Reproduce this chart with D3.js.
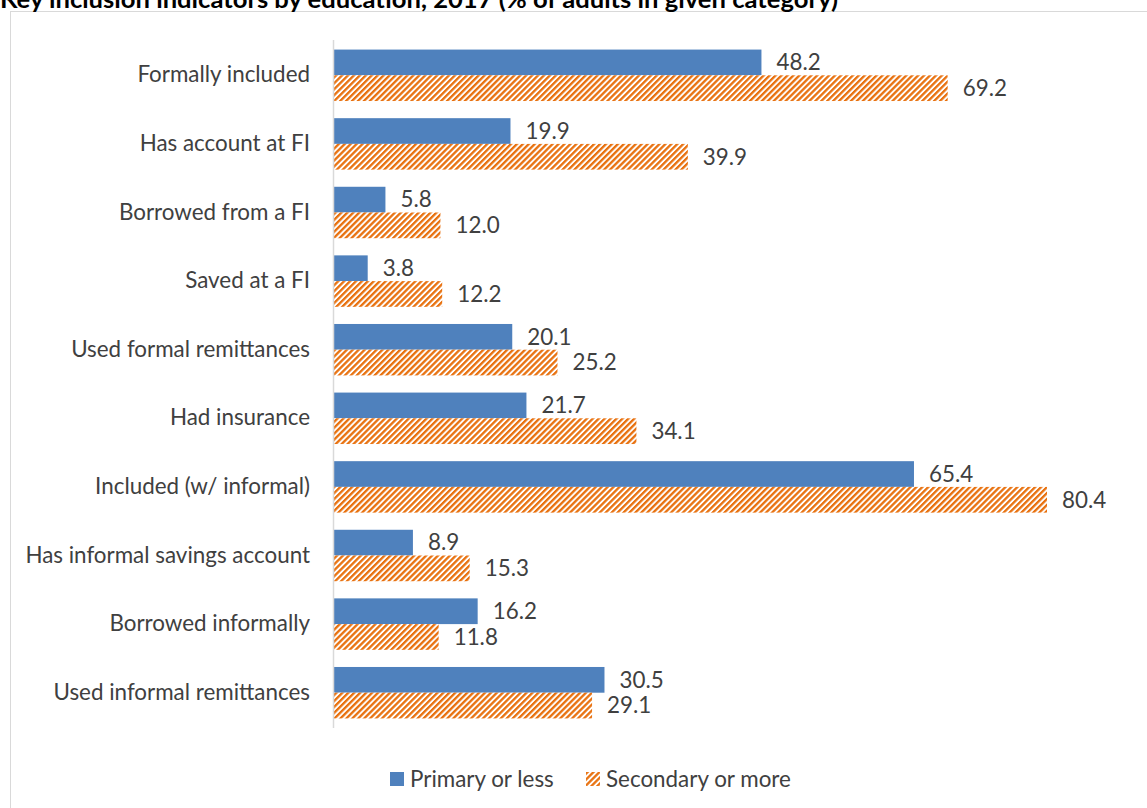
<!DOCTYPE html>
<html>
<head>
<meta charset="utf-8">
<script src="https://cdn.jsdelivr.net/npm/d3@7"></script>
<style>
  body { margin: 0; background: #fff; }
  svg { display: block; }
</style>
</head>
<body>
<div id="chart"></div>
<script>
var categories = ["Formally included", "Has account at FI", "Borrowed from a FI", "Saved at a FI",
  "Used formal remittances", "Had insurance", "Included (w/ informal)", "Has informal savings account",
  "Borrowed informally", "Used informal remittances"];
var primary = [48.2, 19.9, 5.8, 3.8, 20.1, 21.7, 65.4, 8.9, 16.2, 30.5];
var secondary = [69.2, 39.9, 12.0, 12.2, 25.2, 34.1, 80.4, 15.3, 11.8, 29.1];
var seriesNames = ["Primary or less", "Secondary or more"];

var width = 1147;
var height = 808;
var font = "Lato, 'Open Sans', sans-serif";
var textColor = "#404040";
var fs = "22.4px";

var svg = d3.select("#chart")
  .append("svg")
  .attr("width", width)
  .attr("height", height);

// hatch pattern for the second series
var defs = svg.append("defs");
var pat = defs.append("pattern")
  .attr("id", "hatch")
  .attr("patternUnits", "userSpaceOnUse")
  .attr("width", 4.2)
  .attr("height", 4.2)
  .attr("patternTransform", "rotate(45)");
pat.append("rect").attr("width", 4.2).attr("height", 4.2).attr("fill", "#fff");
pat.append("rect").attr("width", 2.3).attr("height", 4.2).attr("fill", "#E8710F");

// chart area border
svg.append("rect")
  .attr("x", 10.5)
  .attr("y", 11.5)
  .attr("width", width + 10)
  .attr("height", height + 10)
  .attr("fill", "none")
  .attr("stroke", "#d9d9d9");

// title (top partly clipped like the original)
svg.append("text")
  .attr("x", 0)
  .attr("y", 8)
  .attr("font-family", font)
  .attr("font-weight", "bold")
  .attr("font-size", "25.6px")
  .attr("fill", "#000")
  .text("Key inclusion indicators by education, 2017 (% of adults in given category)");

var xScale = d3.scaleLinear()
  .domain([0, 80.4])
  .range([334, 1047]);

var yScale = d3.scaleBand()
  .domain(categories)
  .range([41, 727])
  .paddingInner(0.25)
  .paddingOuter(0.125);

var bh = yScale.bandwidth() / 2;

// category labels
svg.append("g")
  .attr("transform", "translate(334,0)")
  .call(d3.axisLeft(yScale).tickSize(0).tickPadding(24))
  .call(function (g) { g.select(".domain").remove(); })
  .selectAll("text")
  .attr("font-family", font)
  .attr("font-size", fs)
  .attr("fill", textColor);

// bars
var rows = categories.map(function (c, i) {
  return { cat: c, p: primary[i], s: secondary[i] };
});

svg.selectAll("rect.prim")
  .data(rows)
  .enter()
  .append("rect")
  .attr("class", "prim")
  .attr("x", xScale(0))
  .attr("y", function (d) { return yScale(d.cat); })
  .attr("width", function (d) { return xScale(d.p) - xScale(0); })
  .attr("height", bh)
  .attr("fill", "#4F81BD");

svg.selectAll("rect.sec")
  .data(rows)
  .enter()
  .append("rect")
  .attr("class", "sec")
  .attr("x", xScale(0))
  .attr("y", function (d) { return yScale(d.cat) + bh; })
  .attr("width", function (d) { return xScale(d.s) - xScale(0); })
  .attr("height", bh)
  .attr("fill", "url(#hatch)");

// value labels
svg.selectAll("text.lp")
  .data(rows)
  .enter()
  .append("text")
  .attr("class", "lp")
  .attr("x", function (d) { return xScale(d.p) + 15; })
  .attr("y", function (d) { return yScale(d.cat) + bh / 2; })
  .attr("dy", "0.35em")
  .attr("font-family", font)
  .attr("font-size", fs)
  .attr("fill", textColor)
  .text(function (d) { return d.p.toFixed(1); });

svg.selectAll("text.ls")
  .data(rows)
  .enter()
  .append("text")
  .attr("class", "ls")
  .attr("x", function (d) { return xScale(d.s) + 15; })
  .attr("y", function (d) { return yScale(d.cat) + bh * 1.5; })
  .attr("dy", "0.35em")
  .attr("font-family", font)
  .attr("font-size", fs)
  .attr("fill", textColor)
  .text(function (d) { return d.s.toFixed(1); });

// vertical axis line
svg.append("line")
  .attr("x1", 333.5).attr("x2", 333.5)
  .attr("y1", 40).attr("y2", 728)
  .attr("stroke", "#d9d9d9")
  .attr("stroke-width", 1.5);

// legend
var legend = svg.append("g").attr("transform", "translate(390,772)");
var legendX = [0, 196];
var legendFill = ["#4F81BD", "url(#hatch)"];
legend.selectAll("rect")
  .data(seriesNames)
  .enter()
  .append("rect")
  .attr("x", function (d, i) { return legendX[i]; })
  .attr("y", 0)
  .attr("width", 14)
  .attr("height", 14)
  .attr("fill", function (d, i) { return legendFill[i]; });
legend.selectAll("text")
  .data(seriesNames)
  .enter()
  .append("text")
  .attr("x", function (d, i) { return legendX[i] + 20; })
  .attr("y", 7)
  .attr("dy", "0.35em")
  .attr("font-family", font)
  .attr("font-size", fs)
  .attr("fill", textColor)
  .text(function (d) { return d; });
</script>
</body>
</html>
